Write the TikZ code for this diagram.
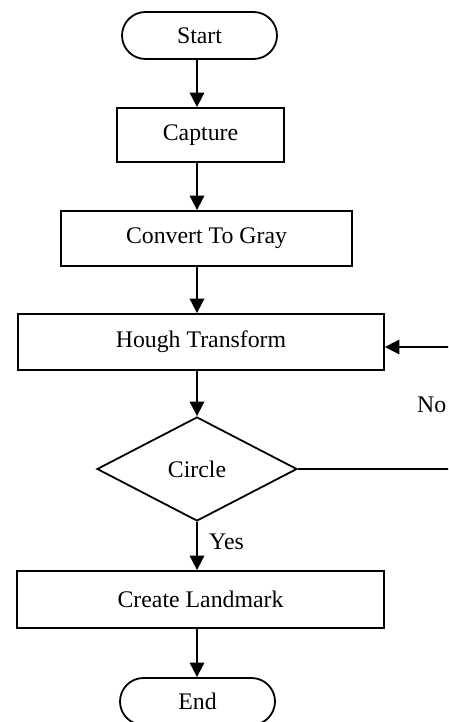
\documentclass[tikz,border=0pt]{standalone}
\usepackage{fontspec}
\setmainfont{Liberation Serif}
\usetikzlibrary{shapes.geometric,arrows.meta}
\begin{document}
\begin{tikzpicture}[x=1pt,y=-1pt,
  every node/.style={font=\fontsize{23.8}{28}\selectfont, inner sep=0pt},
  box/.style={draw, line width=1.8pt, rectangle},
  terminal/.style={draw, line width=1.8pt, rectangle, rounded corners=23.5pt,
    minimum width=155pt, minimum height=47pt},
  decision/.style={draw, line width=1.8pt, diamond,
    minimum width=200pt, minimum height=104pt},
  flow/.style={line width=1.8pt, -{Triangle[length=14.5pt,width=14.5pt]}},
]
\clip (0,0) rectangle (448,722);
\useasboundingbox (0,0) rectangle (448,722);

% process chain
\node[terminal] (start) at (199.5,35.5) {Start};
\node[box, minimum width=167pt, minimum height=54pt] (capture) at (200.5,135) {Capture};
\node[box, minimum width=291pt, minimum height=55pt] (gray) at (206.5,238.5) {Convert To Gray};
\node[box, minimum width=366pt, minimum height=56pt] (hough) at (201,342) {Hough Transform};
\node[decision] (circle) at (197,469) {Circle};
\node[box, minimum width=367pt, minimum height=57pt] (landmark) at (200.5,599.5) {Create Landmark};
\node[terminal] (end) at (197.5,701.5) {End};

% vertical spine of the main flow
\coordinate (spine) at (197,0);
\draw[flow] (start.south -| spine) -- (capture.north -| spine);
\draw[flow] (capture.south -| spine) -- (gray.north -| spine);
\draw[flow] (gray.south -| spine) -- (hough.north -| spine);
\draw[flow] (hough.south -| spine) -- (circle.north);
\draw[flow] (circle.south) -- (landmark.north -| spine);
\draw[flow] (landmark.south -| spine) -- (end.north -| spine);

% branch labels
\node[anchor=base west] (yes) at (209,549) {Yes};
\node[anchor=base west] (no) at (417,412) {No};

% loop back when no circle is found
\coordinate (back) at (470,347);
\draw[flow] (circle.east) -| (back) -- (hough.east |- back);
\end{tikzpicture}
\end{document}
